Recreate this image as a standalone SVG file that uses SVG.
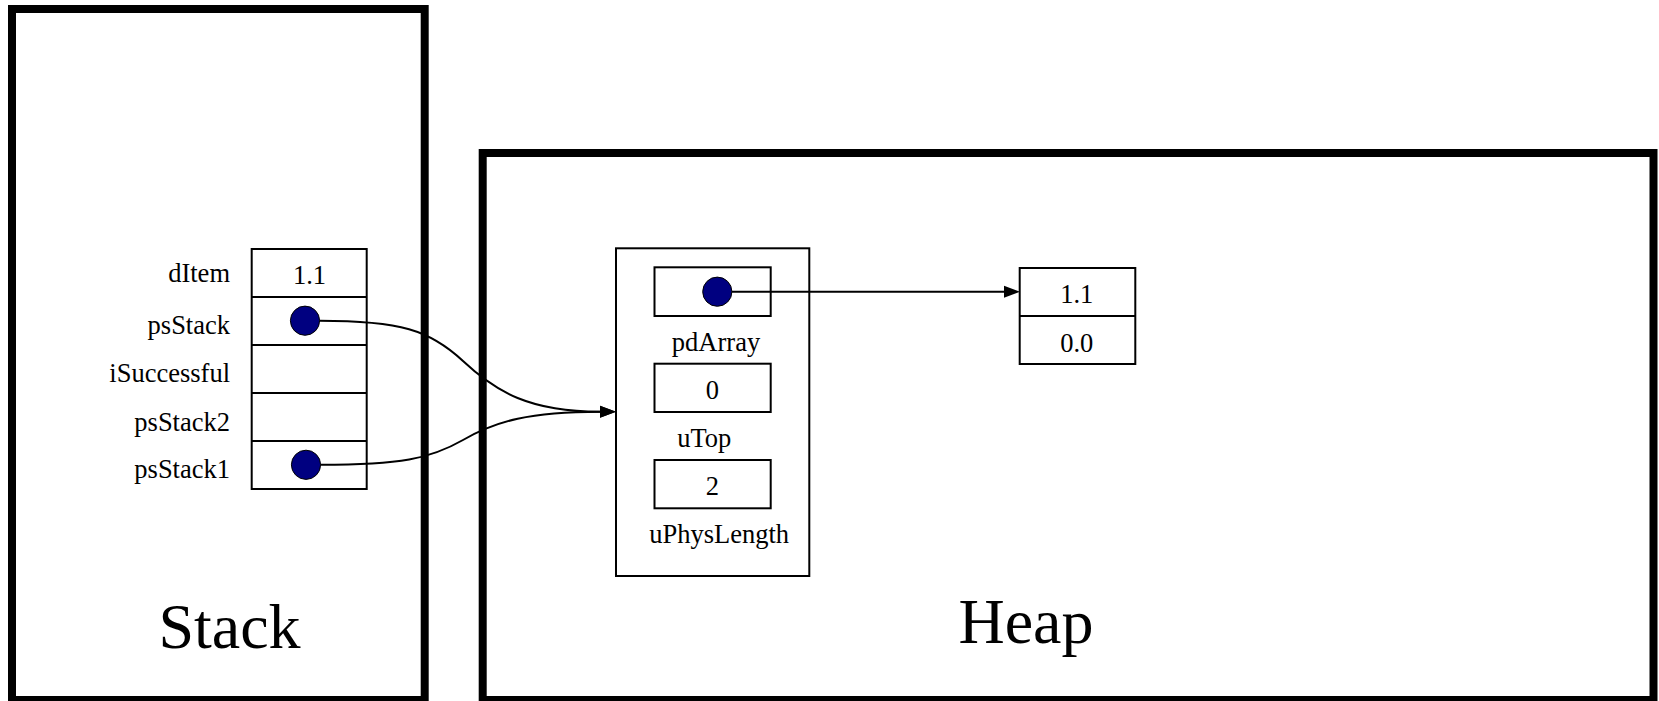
<svg xmlns="http://www.w3.org/2000/svg" width="1659" height="701" viewBox="0 0 1659 701">
<style>
.frame{fill:none;stroke:#000;stroke-width:8}
.cell{fill:none;stroke:#000;stroke-width:2}
.dot{fill:#000080;stroke:#000;stroke-width:1}
.t{font-size:26.5px;fill:#000}
.big{font-size:64px;fill:#000;text-anchor:middle}
.edge{fill:none;stroke:#000;stroke-width:2}
</style>
<defs>
<marker id="arr" markerUnits="userSpaceOnUse" markerWidth="16" markerHeight="14" refX="0" refY="7" orient="auto" viewBox="0 0 16 14">
<polygon points="0,1 16,7 0,13" fill="#000"/>
</marker>
</defs>
<rect width="1659" height="701" fill="#fff"/>
<g id="stack">
<rect class="frame" x="12" y="9" width="412.7" height="691"/>
<text class="big" x="229.5" y="648" font-family="Liberation Serif">Stack</text>
</g>
<g id="heap">
<rect class="frame" x="482.7" y="153" width="1170.8" height="547"/>
<text class="big" x="1026" y="643" font-family="Liberation Serif">Heap</text>
</g>
<g id="stackframe">
<text class="t" x="230" y="282" text-anchor="end" font-family="Liberation Serif">dItem</text>
<text class="t" x="230" y="334" text-anchor="end" font-family="Liberation Serif">psStack</text>
<text class="t" x="230" y="382" text-anchor="end" font-family="Liberation Serif">iSuccessful</text>
<text class="t" x="230" y="431" text-anchor="end" font-family="Liberation Serif">psStack2</text>
<text class="t" x="230" y="478" text-anchor="end" font-family="Liberation Serif">psStack1</text>
<rect class="cell" x="251.7" y="249" width="115" height="240"/>
<line class="cell" x1="251.7" y1="297" x2="366.7" y2="297"/>
<line class="cell" x1="251.7" y1="345" x2="366.7" y2="345"/>
<line class="cell" x1="251.7" y1="393" x2="366.7" y2="393"/>
<line class="cell" x1="251.7" y1="441" x2="366.7" y2="441"/>
<text class="t" x="309.5" y="284" text-anchor="middle" font-family="Liberation Serif">1.1</text>
<circle class="dot" cx="305" cy="320.7" r="14.6"/>
<circle class="dot" cx="306" cy="464.8" r="14.6"/>
</g>
<g id="stackstruct">
<rect class="cell" x="616" y="248.3" width="193.3" height="327.7"/>
<rect class="cell" x="654.5" y="267.3" width="116.2" height="48.7"/>
<circle class="dot" cx="717.3" cy="291.7" r="14.6"/>
<text class="t" x="716" y="351" text-anchor="middle" font-family="Liberation Serif">pdArray</text>
<rect class="cell" x="654.5" y="363.7" width="116.2" height="48.3"/>
<text class="t" x="712.3" y="399.3" text-anchor="middle" font-family="Liberation Serif">0</text>
<text class="t" x="704.2" y="446.7" text-anchor="middle" font-family="Liberation Serif">uTop</text>
<rect class="cell" x="654.5" y="460" width="116.2" height="48.3"/>
<text class="t" x="712.3" y="495" text-anchor="middle" font-family="Liberation Serif">2</text>
<text class="t" x="719.2" y="543.3" text-anchor="middle" font-family="Liberation Serif">uPhysLength</text>
</g>
<g id="array">
<rect class="cell" x="1019.7" y="268" width="115.6" height="96"/>
<line class="cell" x1="1019.7" y1="316" x2="1135.3" y2="316"/>
<text class="t" x="1076.7" y="303.3" text-anchor="middle" font-family="Liberation Serif">1.1</text>
<text class="t" x="1076.7" y="351.7" text-anchor="middle" font-family="Liberation Serif">0.0</text>
</g>
<g id="connectors">
<path class="edge" d="M319.5,320.7 C400,320.7 430,330 463,361 C496,392 530,411.7 600,411.7" marker-end="url(#arr)"/>
<path class="edge" d="M320.5,464.8 C400,464.8 430,459 463,440 C496,421 530,411.7 600,411.7" marker-end="url(#arr)"/>
<path class="edge" d="M731.9,291.7 L1004,291.7" marker-end="url(#arr)"/>
</g>
</svg>
